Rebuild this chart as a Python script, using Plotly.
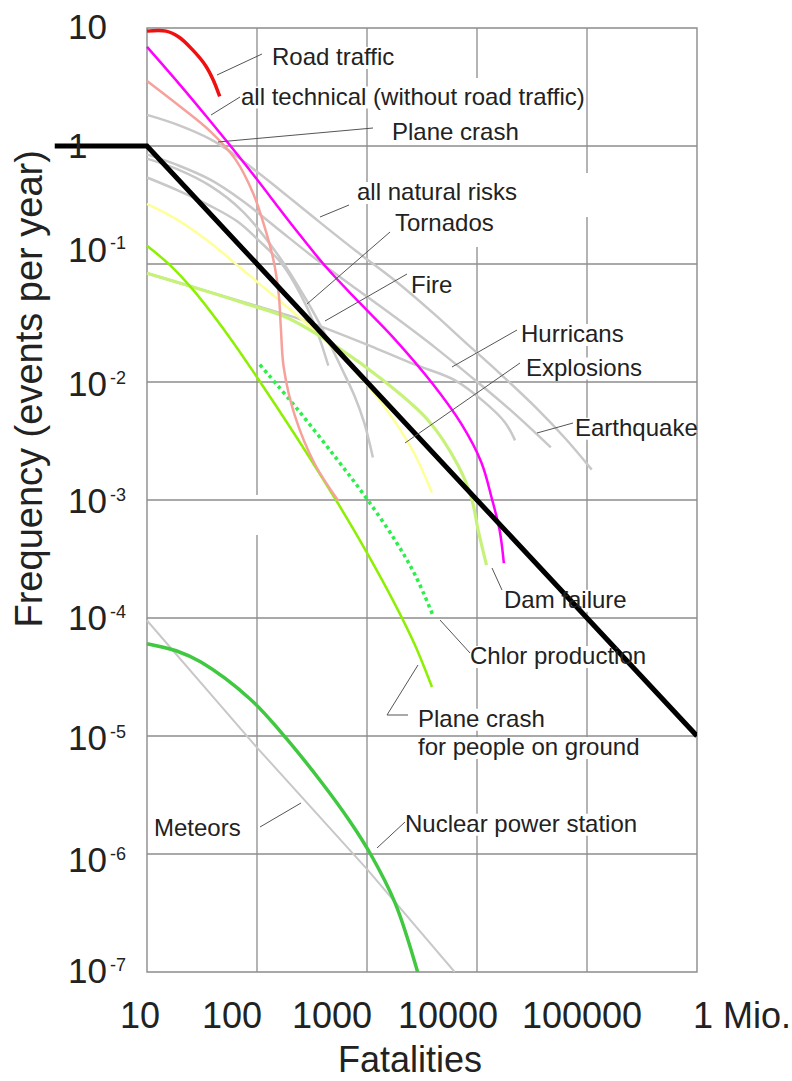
import plotly.graph_objects as go

# ---------------- data (fatalities, events per year) ----------------
black_x = [1.45, 10, 1e6]
black_y = [1, 1, 1e-5]

road_x = [10, 14.9, 19.6, 25.5, 34, 40, 45.8]
road_y = [9.41, 9.41, 8.35, 6.65, 4.82, 3.63, 2.63]

tech_x = [10, 19.6, 36.1, 81.6, 215, 428, 847, 1710, 3900, 7230, 10960, 13580, 16100, 17540]
tech_y = [6.91, 3.36, 1.70, 0.664, 0.206, 0.0933, 0.0475, 0.02415, 0.0098, 0.00439, 0.00208,
          0.001046, 0.000547, 0.000292]

plane_x = [10, 20.4, 37.6, 63.9, 92.2, 118, 142, 158, 165, 175, 220, 333, 548]
plane_y = [3.56, 2.13, 1.33, 0.766, 0.397, 0.202, 0.1048, 0.0541, 0.0281, 0.01326, 0.00523,
           0.00204, 0.000987]

natural_x = [10, 18.8, 37.6, 63.9, 104.2, 186, 347, 796, 1818, 4147, 7695, 16100, 34000, 64500, 110300]
natural_y = [1.834, 1.517, 1.142, 0.832, 0.587, 0.3815, 0.238, 0.1287, 0.0717, 0.0372, 0.022,
             0.01184, 0.00612, 0.00327, 0.00181]

quake_x = [10, 18.8, 37.6, 73.7, 151, 347, 796, 1818, 4147, 10064, 22180, 46860]
quake_y = [0.849, 0.691, 0.519, 0.344, 0.202, 0.1092, 0.0617, 0.0352, 0.01965, 0.01, 0.00534, 0.00279]

tornado_x = [10, 18.8, 37.6, 66.5, 104, 168, 244, 333, 445]
tornado_y = [0.541, 0.423, 0.311, 0.229, 0.158, 0.1006, 0.0573, 0.0308, 0.01375]

fire_x = [10, 18.8, 37.6, 73.6, 151, 282, 427, 583, 764, 940, 1132]
fire_y = [0.782, 0.637, 0.459, 0.281, 0.1235, 0.0493, 0.02415, 0.01326, 0.00775, 0.00456, 0.00229]

hurricane_x = [10, 29.4, 81.6, 300, 1204, 2746, 6264, 11690, 17910, 22180]
hurricane_y = [0.0834, 0.0617, 0.0466, 0.032, 0.0193, 0.01402, 0.01038, 0.00675, 0.00456, 0.0032]

explosion_x = [10, 18.8, 37.6, 73.6, 151, 300, 608, 1042, 1710, 2746, 3898]
explosion_y = [0.324, 0.238, 0.1516, 0.0899, 0.0512, 0.0297, 0.016, 0.00907, 0.00493, 0.00239, 0.00115]

dam_x = [10, 29.4, 81.6, 186, 559, 1391, 3589, 6662, 8892, 10280, 12200]
dam_y = [0.0834, 0.0617, 0.0457, 0.0352, 0.0193, 0.01038, 0.00474, 0.0020, 0.001046, 0.000547, 0.000281]

ground_x = [10, 16.0, 26.6, 54.3, 100, 229, 526, 980, 1818, 2746, 3898]
ground_y = [0.1426, 0.0987, 0.0595, 0.02507, 0.01098, 0.0034, 0.000987, 0.000369, 0.000128,
            5.82e-5, 2.6e-5]

chlor_x = [106, 229, 526, 980, 1818, 2746, 3980]
chlor_y = [0.01402, 0.0060, 0.00225, 0.001046, 0.000449, 0.00023, 0.000105]

nuclear_x = [10, 18.4, 30.9, 86.5, 162, 375, 703, 1070, 1803, 2886]
nuclear_y = [6.06e-5, 5.28e-5, 4.23e-5, 2.06e-5, 1.10e-5, 4.20e-6, 1.88e-6, 1.01e-6, 3.84e-7, 1.0e-7]

meteor_x = [10, 100, 1000, 6264]
meteor_y = [9.52e-5, 7.98e-6, 7.45e-7, 1e-7]

# tick labels
x_tick_labels = ["10", "100", "1000", "10000", "100000", "1 Mio."]
y_tick_exponents = [1, 0, -1, -2, -3, -4, -5, -6, -7]

# curve labels
label_texts = ["Road traffic", "all technical (without road traffic)", "Plane crash",
               "all natural risks", "Tornados", "Fire", "Hurricans", "Explosions", "Earthquake",
               "Dam failure", "Chlor production", "Plane crash", "for people on ground",
               "Meteors", "Nuclear power station"]

# ---------------- layout geometry (pixels on the 792 x 1081 canvas) ----------------
W, H = 792, 1081
L, R, T, B = 48, 697, 28, 972
LX0, LX1 = 0.1, 6.0
LY0, LY1 = -7, 1

FONT = "Liberation Sans, Arial, Helvetica, sans-serif"
TXT = "#222222"
GRID = "#8c8c8c"
GRAY = "#c8c8c8"


def pxx(lx):
    return L + (lx - LX0) / (LX1 - LX0) * (R - L)


def pxy(ly):
    return T + (LY1 - ly) / (LY1 - LY0) * (B - T)


def papx(px):
    return (px - L) / (R - L)


def papy(py):
    return (B - py) / (B - T)


label_left = [273, 242, 393, 358, 396, 412, 522, 527, 576, 505, 471, 419, 419, 155, 406]
label_base = [65, 104.5, 140, 200, 230.5, 293, 342, 375.6, 435.7, 607.7, 664, 726.7, 755, 836, 831.7]
label_width = [122.7, 341, 126.7, 160, 101.4, 41.3, 102.7, 116, 122.7, 122.7, 176, 126.7, 221.5, 86.7, 232]
LABEL_SIZE = 24

leaders = [
    [(217, 75), (262, 54)],
    [(211, 115), (240, 97)],
    [(218, 142), (373, 128)],
    [(320, 217), (349, 205)],
    [(307, 304), (390, 232)],
    [(325, 321), (407, 274)],
    [(452, 367), (517, 330)],
    [(405, 443), (520, 363)],
    [(537, 433), (573, 423)],
    [(492, 568), (502, 590)],
    [(440, 620), (470, 653)],
    [(418, 665), (387, 715), (408, 715)],
    [(260, 827), (301, 803)],
    [(377, 848), (405, 822)],
]
# extra interruptions of vertical grid lines seen in the picture
blank_gaps = [(250, 268, 495, 535), (468, 492, 78, 247), (580, 600, 173, 217)]

x_tick_center = [139.5, 231.5, 332, 447.5, 581.5, 742]
x_tick_base = 1028.3
y_tick_left = 68
y_tick_base = [38.3, 158, 261.4, 396, 513, 630, 750, 872, 983]
TICK_SIZE = 35

fig = go.Figure()


def add_line(x, y, color, width, dash="solid", spline=True):
    fig.add_trace(go.Scatter(
        x=x, y=y, mode="lines", hoverinfo="skip", showlegend=False,
        line=dict(color=color, width=width, dash=dash,
                  shape="spline" if spline else "linear", smoothing=1.0)))


add_line(meteor_x, meteor_y, GRAY, 2, spline=False)
add_line(natural_x, natural_y, GRAY, 2.5)
add_line(quake_x, quake_y, GRAY, 2.5)
add_line(fire_x, fire_y, GRAY, 2.5)
add_line(tornado_x, tornado_y, GRAY, 2.5)
add_line(hurricane_x, hurricane_y, GRAY, 2.5)
add_line(explosion_x, explosion_y, "#ffff99", 2.5)
add_line(dam_x, dam_y, "#c6f27a", 3.2)
add_line(ground_x, ground_y, "#8cf000", 2.5)
add_line(chlor_x, chlor_y, "#2bef4a", 3.5, dash="dot")
add_line(plane_x, plane_y, "#f6a19b", 2.5)
add_line(tech_x, tech_y, "#ff00ff", 2.5)
add_line(road_x, road_y, "#f01010", 3.5)
add_line(nuclear_x, nuclear_y, "#40c840", 3.5)
add_line(black_x, black_y, "#000000", 5, spline=False)

shapes = []
annotations = []

# label boxes interrupt the grid lines
boxes = [(l - 2, l + w + 2, b - 18, b + 4) for l, b, w in zip(label_left, label_base, label_width)]


def segments(lo, hi, gaps):
    segs, cur = [], lo
    for g0, g1 in sorted(gaps):
        if g1 <= cur:
            continue
        if g0 >= hi:
            break
        if g0 > cur:
            segs.append((cur, g0))
        cur = max(cur, g1)
    if cur < hi:
        segs.append((cur, hi))
    return segs


for lx in [2, 3, 4, 5]:
    px = pxx(lx)
    gaps = [(b[2], b[3]) for b in boxes + blank_gaps if b[0] <= px <= b[1]]
    for y0, y1 in segments(T, B, gaps):
        shapes.append(dict(type="line", xref="paper", yref="paper", x0=papx(px), x1=papx(px),
                           y0=papy(y0), y1=papy(y1), line=dict(color=GRID, width=1.3), layer="below"))
for ly in range(0, -7, -1):
    py = pxy(ly)
    gaps = [(b[0], b[1]) for b in boxes if b[2] <= py <= b[3]]
    for x0, x1 in segments(pxx(1), R, gaps):
        shapes.append(dict(type="line", xref="paper", yref="paper", x0=papx(x0), x1=papx(x1),
                           y0=papy(py), y1=papy(py), line=dict(color=GRID, width=1.3), layer="below"))
# frame
shapes.append(dict(type="rect", xref="paper", yref="paper", x0=papx(pxx(1)), x1=1, y0=0, y1=1,
                   line=dict(color=GRID, width=1.4), fillcolor="rgba(0,0,0,0)", layer="below"))

# leader lines
for pts in leaders:
    for (ax0, ay0), (ax1, ay1) in zip(pts[:-1], pts[1:]):
        shapes.append(dict(type="line", xref="paper", yref="paper", x0=papx(ax0), y0=papy(ay0),
                           x1=papx(ax1), y1=papy(ay1), line=dict(color="#555555", width=1)))


def add_text(s, px, baseline, size, xanchor="left"):
    annotations.append(dict(
        text=s, x=papx(px), y=papy(baseline + 0.212 * size), xref="paper", yref="paper",
        xanchor=xanchor, yanchor="bottom", showarrow=False, borderpad=0, borderwidth=0,
        font=dict(family=FONT, size=size, color=TXT)))


for s, l, b in zip(label_texts, label_left, label_base):
    add_text(s, l - 1.5, b, LABEL_SIZE)

for s, c in zip(x_tick_labels, x_tick_center):
    add_text(s, c, x_tick_base, 36, xanchor="center")

for e, b in zip(y_tick_exponents, y_tick_base):
    main = "1" if e == 0 else "10"
    add_text(main, y_tick_left, b, TICK_SIZE)
    if e not in (0, 1):
        add_text(str(e), y_tick_left + 42, b - 12, 18)

# axis titles
add_text("Fatalities", 409.5, 1072, 36, xanchor="center")
annotations.append(dict(text="Frequency (events per year)", x=papx(28.5), y=papy(389),
                        xref="paper", yref="paper", xanchor="center", yanchor="middle",
                        textangle=-90, showarrow=False, borderpad=0, borderwidth=0,
                        font=dict(family=FONT, size=38, color=TXT)))

fig.update_layout(
    width=W, height=H, autosize=False,
    margin=dict(l=L, r=W - R, t=T, b=H - B, pad=0, autoexpand=False),
    plot_bgcolor="white", paper_bgcolor="white",
    showlegend=False, hovermode=False,
    xaxis=dict(type="log", range=[LX0, LX1], visible=False, fixedrange=True),
    yaxis=dict(type="log", range=[LY0, LY1], visible=False, fixedrange=True),
    shapes=shapes, annotations=annotations,
)

fig.write_html("out.html", config={"displayModeBar": False, "staticPlot": True})
